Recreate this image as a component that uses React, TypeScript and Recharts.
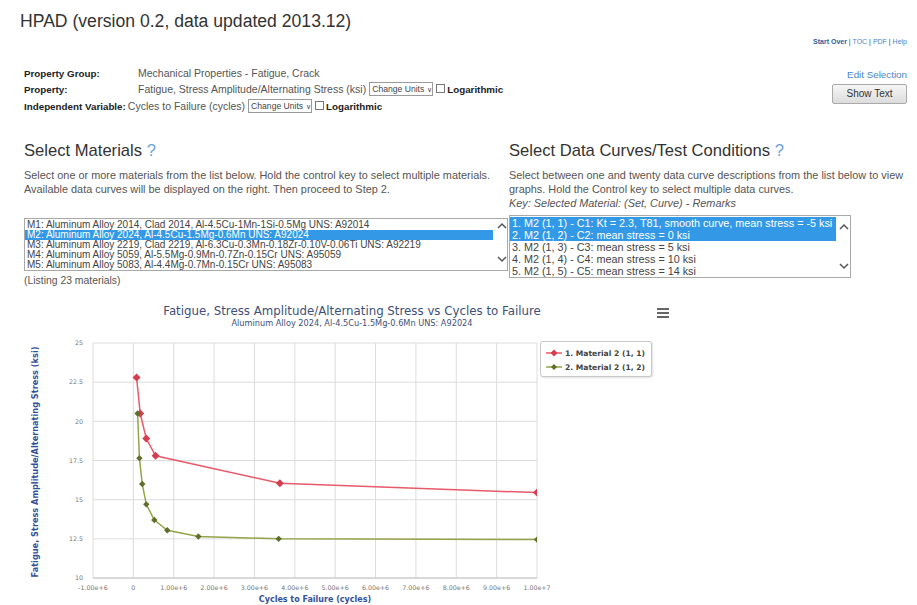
import React from "react";
import { LineChart, Line, XAxis, YAxis, CartesianGrid } from "recharts";

// fatigue curves (cycles, ksi)
const curve1Cycles = [80000, 170000, 320000, 550000, 3630000, 10000000];
const curve1Stress = [22.8, 20.5, 18.9, 17.8, 16.05, 15.45];

const curve2Cycles = [105000, 150000, 220000, 320000, 520000, 840000, 1610000, 3600000, 10000000];
const curve2Stress = [20.5, 17.65, 16.0, 14.7, 13.7, 13.05, 12.65, 12.5, 12.45];

const seriesNames = ["1. Material 2 (1, 1)", "2. Material 2 (1, 2)"];
const xTicks = [-1e6, 0, 1e6, 2e6, 3e6, 4e6, 5e6, 6e6, 7e6, 8e6, 9e6, 1e7];
const yTicks = [10, 12.5, 15, 17.5, 20, 22.5, 25];

const materials = [
  "M1: Aluminum Alloy 2014, Clad 2014, Al-4.5Cu-1Mn-1Si-0.5Mg UNS: A92014",
  "M2: Aluminum Alloy 2024, Al-4.5Cu-1.5Mg-0.6Mn UNS: A92024",
  "M3: Aluminum Alloy 2219, Clad 2219, Al-6.3Cu-0.3Mn-0.18Zr-0.10V-0.06Ti UNS: A92219",
  "M4: Aluminum Alloy 5059, Al-5.5Mg-0.9Mn-0.7Zn-0.15Cr UNS: A95059",
  "M5: Aluminum Alloy 5083, Al-4.4Mg-0.7Mn-0.15Cr UNS: A95083",
];
const curves = [
  "1. M2 (1, 1) - C1: Kt = 2.3, T81, smooth curve, mean stress = -5 ksi",
  "2. M2 (1, 2) - C2: mean stress = 0 ksi",
  "3. M2 (1, 3) - C3: mean stress = 5 ksi",
  "4. M2 (1, 4) - C4: mean stress = 10 ksi",
  "5. M2 (1, 5) - C5: mean stress = 14 ksi",
];

const series1 = curve1Cycles.map((x, i) => ({ x, y: curve1Stress[i] }));
const series2 = curve2Cycles.map((x, i) => ({ x, y: curve2Stress[i] }));

const RED = "#e85a6a";
const RED_DOT = "#d63c50";
const GREEN = "#93a449";
const GREEN_DOT = "#5f6e2a";
const TITLE_BLUE = "#3e4f78";
const AXIS_BLUE = "#34509a";
const LINK = "#4a86c8";
const HILITE = "#3399e6";
const CHART_FONT = "'DejaVu Sans', Verdana, sans-serif";

const fmtX = (v: number) => (v === 0 ? "0" : v.toExponential(2));

const diamond = (color: string, r: number) => (props: any) => {
  const { cx, cy, index } = props;
  if (cx == null || cy == null) return <g key={`n-${index}`} />;
  return (
    <path
      key={`d-${color}-${index}`}
      d={`M${cx},${cy - r}L${cx + r},${cy}L${cx},${cy + r}L${cx - r},${cy}Z`}
      fill={color}
    />
  );
};

const at = (x: number, y: number, size: number, extra: React.CSSProperties = {}): React.CSSProperties => ({
  position: "absolute",
  left: x,
  top: y - size * 0.6,
  fontSize: size,
  lineHeight: `${size * 1.2}px`,
  whiteSpace: "nowrap",
  ...extra,
});

function SelectBox() {
  return (
    <span
      style={{
        display: "inline-block",
        width: 64,
        height: 14,
        border: "1px solid #9a9a9a",
        boxSizing: "border-box",
        fontSize: 8.6,
        lineHeight: "12px",
        paddingLeft: 2,
        color: "#444",
        marginLeft: 3,
        verticalAlign: "middle",
        whiteSpace: "nowrap",
        overflow: "hidden",
      }}
    >
      Change Units <span style={{ fontSize: 7 }}>&#8744;</span>
    </span>
  );
}

function Check() {
  return (
    <span
      style={{
        display: "inline-block",
        width: 9,
        height: 9,
        border: "1px solid #777",
        boxSizing: "border-box",
        background: "#fff",
        margin: "0 2px 0 3px",
        verticalAlign: "middle",
      }}
    />
  );
}

function Chevrons({ x, top, bottom }: { x: number; top: number; bottom: number }) {
  const h = bottom - top;
  return (
    <svg style={{ position: "absolute", left: x, top: top, overflow: "visible" }} width={10} height={h}>
      <polyline points="1,9 5,5 9,9" fill="none" stroke="#555" strokeWidth={1.5} />
      <polyline points={`1,${h - 14} 5,${h - 10} 9,${h - 14}`} fill="none" stroke="#555" strokeWidth={1.5} />
    </svg>
  );
}

function ListBox({
  x,
  top,
  w,
  rowH,
  font,
  items,
  selected,
}: {
  x: number;
  top: number;
  w: number;
  rowH: number;
  font: number;
  items: string[];
  selected: number[];
}) {
  return (
    <div
      style={{
        position: "absolute",
        left: x,
        top,
        width: w,
        height: rowH * items.length + 3,
        border: "1px solid #a9a9a9",
        boxSizing: "border-box",
        overflow: "hidden",
        paddingTop: 1,
      }}
    >
      {items.map((t, i) => (
        <div
          key={t}
          style={{
            height: rowH,
            lineHeight: `${rowH}px`,
            fontSize: font,
            paddingLeft: 2,
            marginRight: 14,
            whiteSpace: "nowrap",
            overflow: "hidden",
            background: selected.includes(i) ? HILITE : "transparent",
            color: selected.includes(i) ? "#fff" : "#444",
          }}
        >
          {t}
        </div>
      ))}
    </div>
  );
}

const lbl: React.CSSProperties = { fontWeight: "bold", color: "#222", fontSize: 9.8 };
const val: React.CSSProperties = { color: "#555", fontSize: 10.5 };

export default function App() {
  return (
    <div
      style={{
        position: "absolute",
        left: 0,
        top: 0,
        width: 917,
        height: 605,
        background: "#fff",
        overflow: "hidden",
        fontFamily: "'Liberation Sans', Arial, sans-serif",
        color: "#333",
      }}
    >
      <div style={at(20, 22, 17.6, { color: "#333" })}>HPAD (version 0.2, data updated 2013.12)</div>

      <div style={at(0, 42, 7, { left: undefined, right: 10, color: LINK })}>
        <span style={{ color: "#2c5e9e", fontWeight: "bold" }}>Start Over</span>
        <span style={{ color: "#333" }}> | </span>TOC<span style={{ color: "#333" }}> | </span>PDF
        <span style={{ color: "#333" }}> | </span>Help
      </div>

      <div style={{ position: "absolute", left: 24, top: 64, lineHeight: "16px", whiteSpace: "nowrap" }}>
        <span style={{ ...lbl, display: "inline-block", width: 114 }}>Property Group:</span>
        <span style={val}>Mechanical Properties - Fatigue, Crack</span>
      </div>
      <div style={{ position: "absolute", left: 24, top: 80, lineHeight: "16px", whiteSpace: "nowrap" }}>
        <span style={{ ...lbl, display: "inline-block", width: 114 }}>Property:</span>
        <span style={val}>Fatigue, Stress Amplitude/Alternating Stress (ksi)</span>
        <SelectBox />
        <Check />
        <span style={lbl}>Logarithmic</span>
      </div>
      <div style={{ position: "absolute", left: 24, top: 97, lineHeight: "16px", whiteSpace: "nowrap" }}>
        <span style={{ ...lbl, marginRight: 2 }}>Independent Variable:</span>
        <span style={val}>Cycles to Failure (cycles)</span>
        <SelectBox />
        <Check />
        <span style={lbl}>Logarithmic</span>
      </div>

      <div style={at(0, 75, 9.8, { left: undefined, right: 10, color: LINK })}>Edit Selection</div>
      <div
        style={{
          position: "absolute",
          left: 832,
          top: 84,
          width: 75,
          height: 20,
          border: "1px solid #aaa",
          borderRadius: 2,
          background: "linear-gradient(#f6f6f6, #dcdcdc)",
          boxSizing: "border-box",
          fontSize: 10,
          lineHeight: "18px",
          textAlign: "center",
          color: "#333",
        }}
      >
        Show Text
      </div>

      <div style={at(24, 151, 16.6, { color: "#333" })}>
        Select Materials <span style={{ color: "#6aa2d8" }}>?</span>
      </div>
      <div style={at(509, 151, 16.6, { color: "#333" })}>
        Select Data Curves/Test Conditions <span style={{ color: "#6aa2d8" }}>?</span>
      </div>

      <div style={at(24, 176, 10.9, { color: "#555" })}>
        Select one or more materials from the list below. Hold the control key to select multiple materials.
      </div>
      <div style={at(24, 190, 10.9, { color: "#555" })}>
        Available data curves will be displayed on the right. Then proceed to Step 2.
      </div>

      <div style={at(509, 176, 10.9, { color: "#555" })}>
        Select between one and twenty data curve descriptions from the list below to view
      </div>
      <div style={at(509, 190, 10.9, { color: "#555" })}>
        graphs. Hold the Control key to select multiple data curves.
      </div>
      <div style={at(509, 204, 10.9, { color: "#555", fontStyle: "italic" })}>
        Key: Selected Material: (Set, Curve) - Remarks
      </div>

      <ListBox x={24} top={218} w={484} rowH={10} font={10} items={materials} selected={[1]} />
      <Chevrons x={497} top={219} bottom={271} />
      <div style={at(24, 281, 10.4, { color: "#555" })}>(Listing 23 materials)</div>

      <ListBox x={509} top={215} w={342} rowH={12} font={10.8} items={curves} selected={[0, 1]} />
      <Chevrons x={839} top={220} bottom={278} />

      {/* chart block */}
      <div style={{ position: "absolute", left: 0, top: 300, width: 700, height: 305 }}>
        <div style={at(0, 11, 11.8, { width: 704, textAlign: "center", color: TITLE_BLUE, fontFamily: CHART_FONT })}>
          Fatigue, Stress Amplitude/Alternating Stress vs Cycles to Failure
        </div>
        <div style={at(0, 24, 8.2, { width: 704, textAlign: "center", color: TITLE_BLUE, fontFamily: CHART_FONT })}>
          Aluminum Alloy 2024, Al-4.5Cu-1.5Mg-0.6Mn UNS: A92024
        </div>
        <svg style={{ position: "absolute", left: 657, top: 8 }} width={13} height={11}>
          <rect x={0} y={0} width={12} height={2} fill="#666" />
          <rect x={0} y={4} width={12} height={2} fill="#666" />
          <rect x={0} y={8} width={12} height={2} fill="#666" />
        </svg>

        <LineChart width={700} height={305} margin={{ top: 43, right: 163, bottom: 7, left: 33 }}>
          <CartesianGrid stroke="#dcdcdc" strokeWidth={1} />
          <XAxis
            type="number"
            dataKey="x"
            domain={[-1e6, 1e7]}
            ticks={xTicks}
            interval={0}
            allowDataOverflow
            tickFormatter={fmtX}
            tickLine={false}
            axisLine={{ stroke: "#c4c4c4" }}
            height={20}
            tickSize={0}
            tickMargin={8}
            tick={{ fontSize: 6.3, fill: "#777", fontFamily: CHART_FONT }}
          />
          <YAxis
            type="number"
            dataKey="y"
            domain={[10, 25]}
            ticks={yTicks}
            interval={0}
            allowDataOverflow
            tickLine={false}
            axisLine={false}
            width={60}
            tickSize={0}
            tickMargin={10}
            tick={{ fontSize: 6.3, fill: "#777", fontFamily: CHART_FONT }}
          />
          <Line
            data={series1}
            dataKey="y"
            name={seriesNames[0]}
            type="linear"
            stroke={RED}
            strokeWidth={1.5}
            dot={diamond(RED_DOT, 4)}
            activeDot={false}
            isAnimationActive={false}
          />
          <Line
            data={series2}
            dataKey="y"
            name={seriesNames[1]}
            type="linear"
            stroke={GREEN}
            strokeWidth={1.5}
            dot={diamond(GREEN_DOT, 3.2)}
            activeDot={false}
            isAnimationActive={false}
          />
        </LineChart>

        <div style={{ position: "absolute", left: 35, top: 162, width: 0, height: 0 }}>
          <div
            style={{
              position: "absolute",
              left: 0,
              top: 0,
              transform: "translate(-50%, -50%) rotate(-90deg)",
              fontSize: 8.2,
              fontWeight: "bold",
              color: AXIS_BLUE,
              whiteSpace: "nowrap",
              fontFamily: CHART_FONT,
              lineHeight: "10px",
            }}
          >
            Fatigue, Stress Amplitude/Alternating Stress (ksi)
          </div>
        </div>
        <div
          style={at(93, 300, 8, {
            width: 444,
            textAlign: "center",
            fontWeight: "bold",
            color: AXIS_BLUE,
            fontFamily: CHART_FONT,
          })}
        >
          Cycles to Failure (cycles)
        </div>

        <div
          style={{
            position: "absolute",
            left: 540,
            top: 41,
            width: 112,
            height: 36,
            border: "1px solid #c8c8c8",
            borderRadius: 3,
            boxShadow: "1px 1px 2px rgba(0,0,0,0.12)",
            boxSizing: "border-box",
            background: "#fff",
          }}
        >
          {[
            { name: seriesNames[0], line: RED, dot: RED_DOT, r: 3.5 },
            { name: seriesNames[1], line: GREEN, dot: GREEN_DOT, r: 3 },
          ].map((s, i) => (
            <div
              key={s.name}
              style={{
                position: "absolute",
                left: 5,
                top: 5 + i * 14,
                height: 12,
                display: "flex",
                alignItems: "center",
                whiteSpace: "nowrap",
              }}
            >
              <svg width={16} height={10}>
                <line x1={0} y1={5} x2={16} y2={5} stroke={s.line} strokeWidth={1.5} />
                <path d={`M8,${5 - s.r}L${8 + s.r},5L8,${5 + s.r}L${8 - s.r},5Z`} fill={s.dot} />
              </svg>
              <span style={{ marginLeft: 3, fontSize: 7.6, fontWeight: "bold", color: "#444", fontFamily: CHART_FONT }}>
                {s.name}
              </span>
            </div>
          ))}
        </div>
      </div>
    </div>
  );
}
